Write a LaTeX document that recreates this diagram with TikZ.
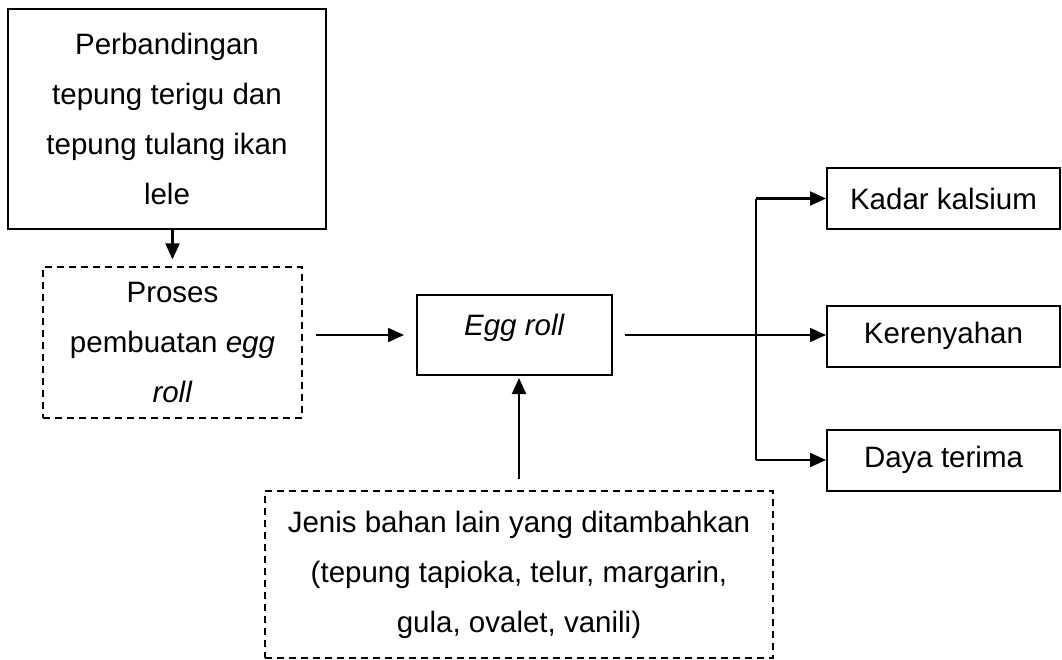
\documentclass[tikz,border=0pt]{standalone}
\usepackage{fontspec}
\setmainfont{Liberation Sans}
\usetikzlibrary{arrows.meta, calc}

\begin{document}
\begin{tikzpicture}[%
    x=1pt, y=-1pt,
    every node/.style = {font=\fontsize{29.5}{50}\selectfont, align=center, inner sep=0pt},
    box/.style = {draw, line width=2pt, minimum width=233pt, minimum height=61pt},
    dashbox/.style = {draw, line width=1.3pt, dash pattern=on 7pt off 5pt},
    every edge/.style = {draw, line width=2.2pt, -{Triangle[length=16pt, width=14pt]}}
]
\useasboundingbox (0,0) rectangle (1062,659);
\node (bahan) [box, minimum width=318pt, minimum height=220pt] at (167,119)
    {Perbandingan\\tepung terigu dan\\tepung tulang ikan\\lele};
\node (proses) [dashbox, minimum width=259pt, minimum height=151pt] at (172.5,342.5)
    {Proses\\pembuatan \textit{egg}\\\textit{roll}};
\node (egg) [box, minimum width=195pt, text height=40pt, text depth=40pt] at (514.5,335)
    {\textit{Egg roll}};
\node (lain) [dashbox, minimum width=508pt, minimum height=167pt] at (519,574.5)
    {Jenis bahan lain yang ditambahkan\\(tepung tapioka, telur, margarin,\\gula, ovalet, vanili)};
\foreach \y/\name/\txt in {198.5/kadar/Kadar kalsium, 336/renyah/Kerenyahan, 460/terima/Daya terima} {
    \node (\name) [box] at (943.5,\y) {\txt};
}
\coordinate (cabang) at (756,335);
\draw [line width=2.2pt] (kadar.west -| cabang) -- (terima.west -| cabang);
\path
    (proses.north |- bahan.south) edge [shorten >=7pt] (proses.north)
    (proses.east |- egg.west) edge [shorten <=13pt, shorten >=12pt] (egg.west)
    (lain.north) edge [shorten <=11pt, shorten >=2pt] (lain.north |- egg.south)
    (egg.east) edge [line width=1.4pt, shorten <=12pt] (egg.east -| renyah.west)
    (kadar.west -| cabang) edge (kadar.west)
    (terima.west -| cabang) edge (terima.west)
    ;
\end{tikzpicture}
\end{document}
